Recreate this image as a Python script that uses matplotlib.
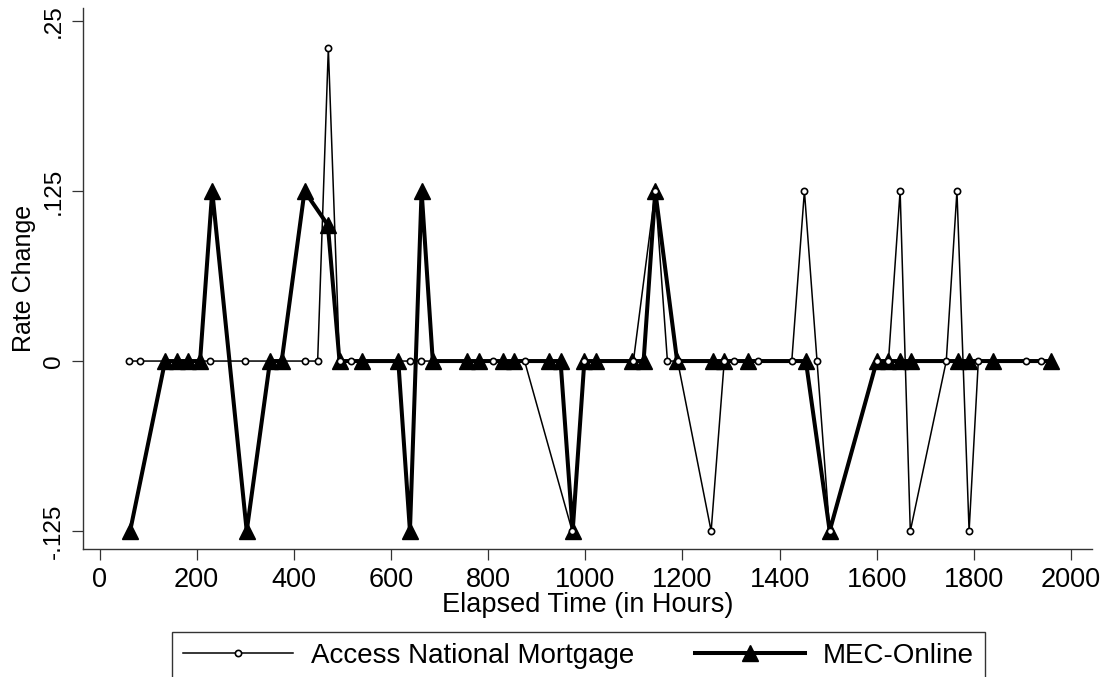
import matplotlib
matplotlib.use('Agg')
import matplotlib.pyplot as plt
from matplotlib.lines import Line2D

plt.rcParams['font.family'] = ['Liberation Sans', 'DejaVu Sans']

# ── Data (hours elapsed, rate change) ──────────────────────────────
access_hours = [61, 83, 227, 300, 424, 449, 471, 494, 518, 639, 661, 810, 875,
                973, 998, 1099, 1144, 1169, 1190, 1259, 1286, 1307, 1356, 1425,
                1451, 1477, 1503, 1600, 1624, 1648, 1669, 1743, 1765, 1790,
                1809, 1907, 1938]
access_rate = [0, 0, 0, 0, 0, 0, 0.23, 0, 0, 0, 0, 0, 0,
               -0.125, 0, 0, 0.125, 0, 0, -0.125, 0, 0, 0, 0,
               0.125, 0, -0.125, 0, 0, 0.125, -0.125, 0, 0.125, -0.125,
               0, 0, 0]

mec_hours = [63, 135, 160, 183, 207, 232, 303, 351, 375, 422, 470, 494, 540,
             615, 639, 663, 686, 757, 781, 830, 853, 926, 949, 974, 998, 1022,
             1096, 1120, 1144, 1189, 1262, 1286, 1334, 1454, 1503, 1600, 1624,
             1647, 1671, 1767, 1790, 1839, 1959]
mec_rate = [-0.125, 0, 0, 0, 0, 0.125, -0.125, 0, 0, 0.125, 0.1, 0, 0,
            0, -0.125, 0.125, 0, 0, 0, 0, 0, 0, 0, -0.125, 0, 0,
            0, 0, 0.125, 0, 0, 0, 0, 0, -0.125, 0, 0,
            0, 0, 0, 0, 0, 0]

x_ticks = [0, 200, 400, 600, 800, 1000, 1200, 1400, 1600, 1800, 2000]
y_ticks = [-0.125, 0, 0.125, 0.25]
y_tick_labels = ['-.125', '0', '.125', '.25']

# ── Figure ─────────────────────────────────────────────────────────
W, H = 1104, 677
fig = plt.figure(figsize=(W / 100, H / 100), dpi=100, facecolor='white')
ax = fig.add_axes([83 / W, 1 - 549 / H, (1092 - 83) / W, (549 - 8) / H])

ax.plot(access_hours, access_rate, color='black', linewidth=1.1,
        marker='o', markersize=4.5, markerfacecolor='white',
        markeredgecolor='black', markeredgewidth=1.2, zorder=3,
        label='Access National Mortgage')
ax.plot(mec_hours, mec_rate, color='black', linewidth=2.9,
        marker='^', markersize=12, markerfacecolor='black',
        markeredgecolor='black', zorder=2, label='MEC-Online')

ax.set_xlim(-34, 2043)
ax.set_ylim(-0.1382, 0.2596)

ax.set_xticks(x_ticks)
ax.set_xticklabels([str(t) for t in x_ticks], fontsize=19.5)
ax.set_yticks(y_ticks)
ax.set_yticklabels(y_tick_labels, fontsize=17.5, rotation=90, va='center')

ax.tick_params(direction='out', length=8, width=0.9, color='#333333')
ax.tick_params(axis='x', pad=5)
ax.tick_params(axis='y', pad=5)
for s in ['top', 'right']:
    ax.spines[s].set_visible(False)
for s in ['left', 'bottom']:
    ax.spines[s].set_color('#333333')
    ax.spines[s].set_linewidth(1.0)

ax.set_xlabel('Elapsed Time (in Hours)', fontsize=19.5, labelpad=-1)
ax.set_ylabel('Rate Change', fontsize=18, labelpad=5)

# ── Legend ─────────────────────────────────────────────────────────
handles = [
    Line2D([0], [0], color='black', linewidth=1.1, marker='o', markersize=4.5,
           markerfacecolor='white', markeredgewidth=1.2),
    Line2D([0], [0], color='black', linewidth=2.9, marker='^', markersize=12),
]
leg = fig.legend(handles, ['Access National Mortgage', 'MEC-Online'],
                 loc='upper left', bbox_to_anchor=(172 / W, 1 - 632 / H),
                 ncol=2, fontsize=20, frameon=True, fancybox=False,
                 edgecolor='black', handlelength=3.95, handletextpad=0.65,
                 columnspacing=2.2, borderpad=0.4, borderaxespad=0)
leg.get_frame().set_linewidth(1.0)

fig.savefig('out.png', dpi=100, facecolor='white')
plt.close(fig)
